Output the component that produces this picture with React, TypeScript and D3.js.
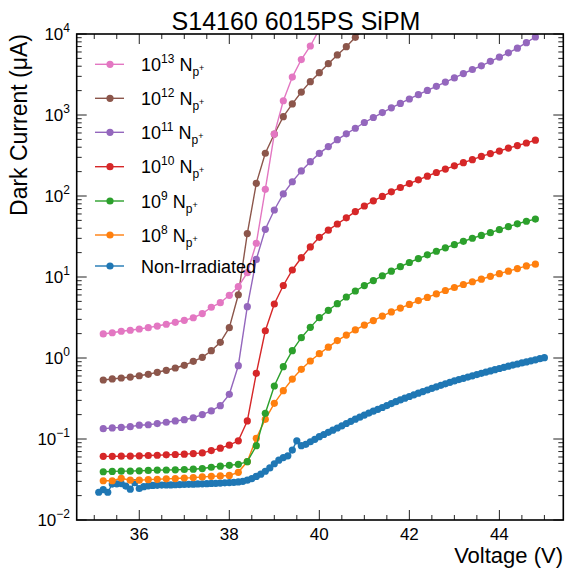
import React from "react";
import * as d3 from "d3";

// ---------- data ----------
const irrStart = 35.2;
const irrStep = 0.2;
const blueStart = 35.1;
const blueStep = 0.1;

const pink13 = [1.98, 2.05, 2.14, 2.2, 2.28, 2.37, 2.48, 2.61, 2.76, 2.92, 3.14, 3.54,
  4.23, 4.82, 5.94, 7.59, 11.3, 26.1, 121, 582, 1500, 2940, 4840, 7110, 11400];

const brown12 = [0.535, 0.551, 0.566, 0.582, 0.604, 0.629, 0.666, 0.705, 0.753, 0.813, 0.91, 1.02,
  1.23, 1.56, 2.37, 6.04, 34.4, 143.5, 337, 582, 953, 1370, 1920, 2580, 3330, 4300, 5510, 6970, 9100, 11700];

const purple11 = [0.134, 0.137, 0.139, 0.142, 0.148, 0.15, 0.155, 0.161, 0.167, 0.173, 0.183, 0.2,
  0.222, 0.258, 0.356, 0.803, 4.3, 16.5, 38.8, 67.2, 106, 150, 204, 265,
  336, 407, 496, 585, 686, 808, 931, 1071, 1225, 1391, 1577, 1781, 2013, 2261, 2547, 2871,
  3245, 3646, 4049, 4600, 5170, 5850, 6680, 7820, 9180];

const red10 = [0.0611, 0.0611, 0.0613, 0.0615, 0.062, 0.0626, 0.063, 0.0637, 0.0644, 0.065, 0.066, 0.0673,
  0.072, 0.077, 0.084, 0.095, 0.167, 0.647, 2.17, 4.64, 7.85, 12.2, 17.3, 23.5,
  30.9, 37.9, 45.1, 53.7, 64.2, 75.3, 87.1, 98.9, 112.5, 127.4, 142.3, 158.5, 175.5, 195, 214.8, 235.5,
  258, 281, 308, 334, 359, 390, 419, 451, 489];

const green9 = [0.0394, 0.0398, 0.0401, 0.0401, 0.0405, 0.0409, 0.0413, 0.0414, 0.0416, 0.042, 0.0424, 0.0432,
  0.0448, 0.0462, 0.0473, 0.0487, 0.0525, 0.0826, 0.2075, 0.451, 0.781, 1.23, 1.78, 2.39,
  3.15, 3.88, 4.68, 5.66, 6.72, 7.83, 9.03, 10.36, 11.8, 13.4, 15.1, 16.9, 18.8, 20.8, 22.9, 25.1,
  27.6, 30.1, 32.6, 35.3, 38.4, 41.8, 45.3, 48.8, 51.9];

const orange8 = [0.0305, 0.0305, 0.0327, 0.031, 0.031, 0.0315, 0.0318, 0.0322, 0.0325, 0.033, 0.0334, 0.034,
  0.0346, 0.035, 0.0355, 0.0388, 0.0527, 0.102, 0.175, 0.276, 0.395, 0.55, 0.725, 0.918,
  1.13, 1.36, 1.64, 1.92, 2.22, 2.55, 2.9, 3.29, 3.71, 4.13, 4.59, 5.11, 5.6, 6.18, 6.81, 7.42,
  8.08, 8.74, 9.39, 10.2, 11.0, 11.8, 12.7, 13.7, 14.4];

const nonIrr = [0.022, 0.0237, 0.022, 0.0278, 0.028, 0.0282, 0.0262, 0.024, 0.029, 0.0245,
  0.0258, 0.0264, 0.0267, 0.0268, 0.027, 0.0271, 0.0271, 0.0273, 0.0274, 0.0275,
  0.0276, 0.0277, 0.0279, 0.028, 0.0281, 0.0283, 0.0284, 0.0286, 0.0288, 0.029,
  0.0292, 0.0295, 0.03, 0.031, 0.0325, 0.0345, 0.0368, 0.04, 0.044, 0.0495,
  0.0548, 0.059, 0.062, 0.073, 0.095, 0.0826, 0.086, 0.0925, 0.099,
  0.1068, 0.1136, 0.121, 0.1284, 0.1367, 0.1455, 0.1553, 0.1654, 0.1755, 0.1858,
  0.1972, 0.2088, 0.2203, 0.2326, 0.2448, 0.2585, 0.2735, 0.2887, 0.3039, 0.319,
  0.3347, 0.3513, 0.3675, 0.3848, 0.4026, 0.4225, 0.4409, 0.4603, 0.4803, 0.5012,
  0.5215, 0.5412, 0.5615, 0.581, 0.6029, 0.6237, 0.6472, 0.6697, 0.693, 0.717,
  0.7419, 0.7677, 0.7921, 0.8171, 0.8432, 0.8699, 0.8952, 0.9235, 0.9501, 0.9803,
  1.0086];

const seriesNames = ["13", "12", "11", "10", "9", "8", "Non-Irradiated"];
const seriesColors = ["#e377c2", "#8c564b", "#9467bd", "#d62728", "#2ca02c", "#ff7f0e", "#1f77b4"];
const seriesValues = [pink13, brown12, purple11, red10, green9, orange8, nonIrr];
const seriesStart = [irrStart, irrStart, irrStart, irrStart, irrStart, irrStart, blueStart];
const seriesStep = [irrStep, irrStep, irrStep, irrStep, irrStep, irrStep, blueStep];

const xMajorTicks = [36, 38, 40, 42, 44];
const yExponents = [4, 3, 2, 1, 0, -1, -2];

const titleText = "S14160 6015PS SiPM";
const xLabel = "Voltage (V)";
const yLabel = "Dark Current (\u03bcA)";

// ---------- layout ----------
const W = 565, H = 571;
const L = 76.7, R = 563.3, T = 34, B = 520;
const FONT = "'Liberation Sans', Arial, Helvetica, sans-serif";

export default function App() {
  const x = d3.scaleLinear().domain([34.61, 45.42]).range([L, R]);
  const y = d3.scaleLog().domain([0.01, 10000]).range([B, T]);

  const series = seriesValues.map((vals, si) =>
    vals.map((v, i) => ({ v: +(seriesStart[si] + i * seriesStep[si]).toFixed(2), c: v }))
  );

  const line = d3.line<{ v: number; c: number }>().x((d) => x(d.v)).y((d) => y(d.c));

  const xMinor = d3.range(35, 45.01, 0.5).filter((t) => !xMajorTicks.includes(t));
  const yMinor: number[] = [];
  for (let e = -2; e < 4; e++) for (let m = 2; m <= 9; m++) yMinor.push(m * Math.pow(10, e));

  const drawOrder = [6, 5, 4, 3, 2, 1, 0];
  const legendY = [64.3, 98.3, 132.3, 166.7, 201, 235, 266];
  const MR = 3.6;

  return (
    <svg width={W} height={H} style={{ position: "absolute", left: 0, top: 0, background: "#fff" }} fontFamily={FONT}>
      <defs>
        <clipPath id="plotclip">
          <rect x={L} y={T} width={R - L} height={B - T} />
        </clipPath>
      </defs>
      <rect x={0} y={0} width={W} height={H} fill="#fff" />

      <g clipPath="url(#plotclip)">
        {drawOrder.map((si) => (
          <g key={si}>
            <path d={line(series[si]) || ""} fill="none" stroke={seriesColors[si]} strokeWidth={1.4} />
            {series[si].map((d, i) => (
              <circle key={i} cx={x(d.v)} cy={y(d.c)} r={MR} fill={seriesColors[si]} />
            ))}
          </g>
        ))}
      </g>

      <g stroke="#222" strokeWidth={1}>
        {xMajorTicks.map((t) => (
          <g key={"xm" + t}>
            <line x1={x(t)} x2={x(t)} y1={B} y2={B - 10} />
            <line x1={x(t)} x2={x(t)} y1={T} y2={T + 10} />
          </g>
        ))}
        {xMinor.map((t) => (
          <g key={"xn" + t}>
            <line x1={x(t)} x2={x(t)} y1={B} y2={B - 5} />
            <line x1={x(t)} x2={x(t)} y1={T} y2={T + 5} />
          </g>
        ))}
        {yExponents.map((e) => (
          <g key={"ym" + e}>
            <line x1={L} x2={L + 10} y1={y(Math.pow(10, e))} y2={y(Math.pow(10, e))} />
            <line x1={R} x2={R - 10} y1={y(Math.pow(10, e))} y2={y(Math.pow(10, e))} />
          </g>
        ))}
        {yMinor.map((t, i) => (
          <g key={"yn" + i}>
            <line x1={L} x2={L + 5} y1={y(t)} y2={y(t)} />
            <line x1={R} x2={R - 5} y1={y(t)} y2={y(t)} />
          </g>
        ))}
      </g>

      <rect x={L} y={T} width={R - L} height={B - T} fill="none" stroke="#000" strokeWidth={1.6} />

      {xMajorTicks.map((t) => (
        <text key={"xl" + t} x={x(t)} y={540} textAnchor="middle" fontSize={17} fill="#000">
          {t}
        </text>
      ))}
      {yExponents.map((e) => (
        <text key={"yl" + e} x={70} y={y(Math.pow(10, e)) + 6} textAnchor="end" fontSize={17} fill="#000">
          <tspan>10</tspan>
          <tspan dy={-8} fontSize={12}>{e < 0 ? "\u2212" + Math.abs(e) : String(e)}</tspan>
        </text>
      ))}

      <text x={296} y={30} textAnchor="middle" fontSize={25} fill="#000">{titleText}</text>
      <text x={563} y={563} textAnchor="end" fontSize={22} fill="#000">{xLabel}</text>
      <text transform={`translate(27,34) rotate(-90)`} textAnchor="end" fontSize={23} fill="#000">{yLabel}</text>

      {seriesNames.map((name, i) => {
        const cy = legendY[i];
        return (
          <g key={"lg" + i}>
            <line x1={95} x2={124} y1={cy} y2={cy} stroke={seriesColors[i]} strokeWidth={1.4} />
            <circle cx={110} cy={cy} r={MR} fill={seriesColors[i]} />
            {name === "Non-Irradiated" ? (
              <text x={141} y={cy + 6.5} fontSize={18} fill="#000">{name}</text>
            ) : (
              <text x={141} y={cy + 6.5} fontSize={18} fill="#000">
                <tspan>10</tspan>
                <tspan dy={-8} fontSize={12}>{name}</tspan>
                <tspan dy={8} fontSize={18}>{" N"}</tspan>
                <tspan dy={5} fontSize={12}>p</tspan>
                <tspan dy={-5} fontSize={9}>+</tspan>
              </text>
            )}
          </g>
        );
      })}
    </svg>
  );
}
